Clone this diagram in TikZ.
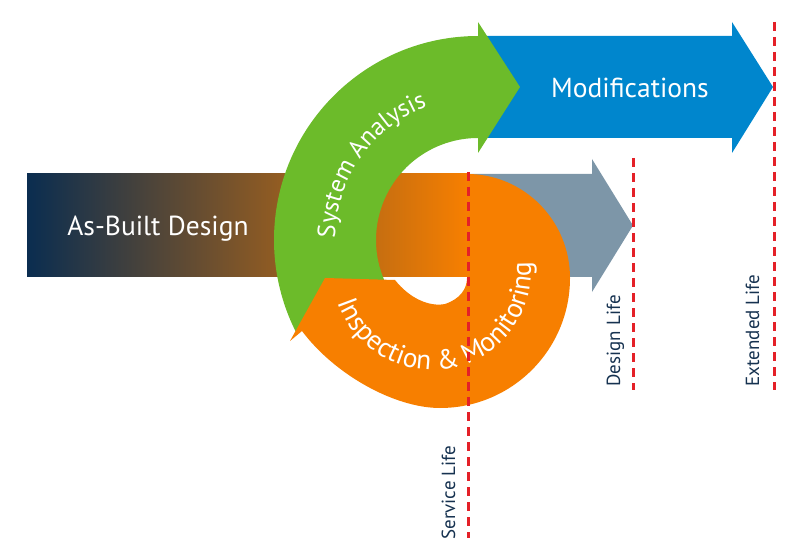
\documentclass[tikz,border=0pt]{standalone}
\usepackage{fontspec}
\setmainfont{PT Sans}
\usepackage{tikz}
\usetikzlibrary{decorations.text}

\definecolor{abnavy}{RGB}{10,45,80}
\definecolor{abbrown}{RGB}{105,74,52}
\definecolor{imorange}{RGB}{247,127,0}
\definecolor{sagreen}{RGB}{108,187,42}
\definecolor{modblue}{RGB}{0,134,205}
\definecolor{dlgrey}{RGB}{125,150,168}
\definecolor{lifered}{RGB}{228,32,40}
\definecolor{labelblue}{RGB}{22,50,80}

\newcommand\satext{\fontsize{25}{29}\selectfont}
\newcommand\imtext{\fontsize{27.5}{31}\selectfont}

\begin{document}
\begin{tikzpicture}[x=1pt,y=1pt,
  bigtext/.style={text=white,font=\fontsize{27.5}{32}\selectfont,anchor=base},
  lifeline/.style={lifered,line width=3pt,dash pattern=on 9pt off 6pt},
  lifelabel/.style={rotate=90,anchor=base west,text=labelblue,font=\fontsize{19}{22}\selectfont}]
  \useasboundingbox (0,0) rectangle (795,555);

  %As-Built band and Design Life arrow
  \shade[left color=abnavy,middle color=abbrown,right color=imorange] (27,278) rectangle (467,381);
  \fill[dlgrey] (467,278) -- (592,278) -- (592,263) -- (633,329.5) -- (592,396) -- (592,381) -- (467,381) -- cycle;

  %Modifications
  \fill[modblue] (478,417) -- (732,417) -- (732,402) -- (773,468) -- (732,533) -- (732,519) -- (478,519) -- cycle;

  %System Analysis
  \fill[sagreen,shift={(478,315)}] (207:102) arc (207:90:102) -- (0,87) -- (42,153) -- (0,218) -- (0,204) arc (90:207:204) -- cycle;
  \path[shift={(478,315)},decorate,decoration={text along path,text align=center,text color=white,
    text={|\satext|System Analysis}}] (205:143) arc (205:85:143);

  %Inspection & Monitoring
  \fill[imorange] (467,381) arc[start angle=90,end angle=0,x radius=103,y radius=104]
    arc[start angle=0,end angle=-90,radius=130]
    .. controls (395,147) and (335,180) .. (302,224) -- (290,214) -- (325,277) -- (395,275)
    .. controls (410,256) and (430,248) .. (445,251) .. controls (460,256) and (467,266) .. (467,277) -- cycle;
  \path[shift={(432,284)},decorate,decoration={text along path,text align=center,text color=white,
    text={|\imtext|Inspection {\&} Monitoring}}] (190:99) arc (190:374:99);

  \node[bigtext] (asbuilt) at (158,319) {As-Built Design};
  \node[bigtext] (modif) at (630,457) {Modifications};

  %Life lines
  \coordinate (sl-top) at (468,383);
  \coordinate (sl-bot) at (468,17);
  \coordinate (dl-top) at (633,397);
  \coordinate (dl-bot) at (633,165);
  \coordinate (el-top) at (774,533);
  \coordinate (el-bot) at (774,165);
  \draw[lifeline] (sl-top) -- (sl-bot);
  \draw[lifeline] (dl-top) -- (dl-bot);
  \draw[lifeline] (el-top) -- (el-bot);
  \node[lifelabel] (sl-lab) at (455,12) {Service Life};
  \node[lifelabel] (dl-lab) at (620,165) {Design Life};
  \node[lifelabel] (el-lab) at (759,165) {Extended Life};
\end{tikzpicture}
\end{document}
